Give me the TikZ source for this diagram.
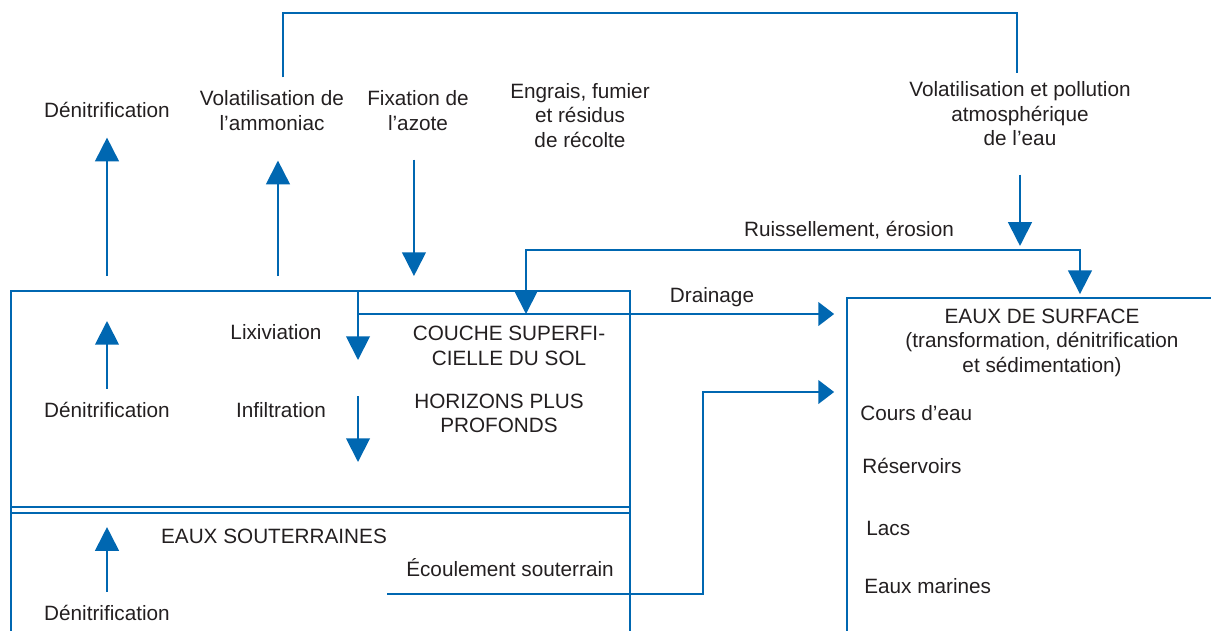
\documentclass[tikz,border=0pt]{standalone}
\usepackage{fontspec}
\setmainfont{Liberation Sans}
\usepackage{xcolor}
\usetikzlibrary{arrows.meta, positioning, calc}
\definecolor{clrFlow}{HTML}{0067B1}
\definecolor{clrText}{HTML}{231F20}

\begin{document}
\begin{tikzpicture}[
    x=0.02cm, y=-0.02cm,
    zone/.style={rectangle, draw=clrFlow, line width=1.1pt, inner sep=0pt},
    lbl/.style={font=\fontsize{11.8}{13.9}\selectfont, text=clrText, inner sep=0pt, align=center},
    flow/.style={draw=clrFlow, line width=1.1pt},
    arrow/.style={flow, -{Triangle[length=13.5pt, width=13.5pt]}},
    flatarrow/.style={flow, -{Triangle[length=9pt, width=13.5pt]}},
]
\useasboundingbox (0,0) rectangle (1211,630);
\clip (0,0) rectangle (1211,630);

% compartments (cut by the page edge)
\node[zone, minimum width=12.38cm, minimum height=8.18cm] (soil) at (320.5,495.5) {};
\node[zone, minimum width=8.26cm, minimum height=8.04cm] (surf) at (1053.5,499) {};
\coordinate (sbot) at (11,507);
\coordinate (gtop) at (11,513);
\draw[flow] (sbot) -- (sbot -| soil.east);
\draw[flow] (gtop) -- (gtop -| soil.east);

% labels above the soil
\node[lbl, anchor=base] (dn1) at (107,117) {Dénitrification};
\node[lbl] (vol1) at (272,110.5) {Volatilisation de\\l’ammoniac};
\node[lbl] (fix) at (418,110.5) {Fixation de\\l’azote};
\node[lbl] (engr) at (580,115.5) {Engrais, fumier\\et résidus\\de récolte};
\node[lbl] (vol2) at (1020,114) {Volatilisation et pollution\\atmosphérique\\de l’eau};
\node[lbl, anchor=base] (ruis) at (849,236) {Ruissellement, érosion};
\node[lbl, anchor=base] (drain) at (712,302) {Drainage};

% labels inside the soil
\node[lbl, anchor=base] (lix) at (276,339) {Lixiviation};
\node[lbl] (couche) at (509,346) {COUCHE SUPERFI-\\CIELLE DU SOL};
\node[lbl, anchor=base] (dn2) at (107,417) {Dénitrification};
\node[lbl, anchor=base] (infil) at (281,417) {Infiltration};
\node[lbl] (horiz) at (499,413.5) {HORIZONS PLUS\\PROFONDS};

% labels in the groundwater
\node[lbl, anchor=base] (souter) at (274,543) {EAUX SOUTERRAINES};
\node[lbl, anchor=base] (ecoul) at (510,576) {Écoulement souterrain};
\node[lbl, anchor=base] (dn3) at (107,620) {Dénitrification};

% surface waters
\node[lbl] (surftitle) at (1042,342.5) {EAUX DE SURFACE\\(transformation, dénitrification\\et sédimentation)};
\node[lbl, anchor=base west] (cours) at (860,420) {Cours d’eau};
\node[lbl, anchor=base west] (reserv) at (862,473) {Réservoirs};
\node[lbl, anchor=base west] (lacs) at (866,535) {Lacs};
\node[lbl, anchor=base west] (marin) at (864,593) {Eaux marines};

% bend points
\coordinate (loop) at (650,13);
\coordinate (lix0) at (358,291);
\coordinate (drain0) at (358,314);
\coordinate (inf0) at (358,396);
\coordinate (runL) at (526,314);
\coordinate (runR) at (1080,250);
\coordinate (ec0) at (387,594);
\coordinate (ec1) at (703,392);

% exchanges with the air
\draw[arrow, shorten <=8pt, shorten >=11.4pt] (dn1.south |- soil.north) -- (dn1.south);
\draw[arrow, shorten <=8pt, shorten >=17pt] ([xshift=3.4pt]vol1.south |- soil.north) -- ([xshift=3.4pt]vol1.south);
\draw[arrow, shorten <=16.5pt, shorten >=8pt] ([xshift=-2.3pt]fix.south) -- ([xshift=-2.3pt]fix.south |- soil.north);
\draw[flow] ([xshift=6.3pt, yshift=7.4pt]vol1.north) |- (loop) -| ([xshift=-1.7pt, yshift=5.1pt]vol2.north);
\draw[arrow, shorten <=16pt, shorten >=2.3pt] (vol2.south) -- (vol2.south |- runR);

% runoff and drainage
\draw[flow, {Triangle[length=13.5pt, width=13.5pt]}-{Triangle[length=13.5pt, width=13.5pt]}, shorten >=1.7pt] (runL) |- (runR) -- (runR |- surf.north);
\draw[flatarrow, shorten >=6.8pt] (drain0) -- (drain0 -| surf.west);
\draw[arrow] (lix0) -- ++(0,69);
\draw[arrow] (inf0) -- ++(0,66);

% losses inside the soil and the groundwater
\draw[arrow, shorten <=7.1pt, shorten >=17.6pt] (dn2.north) -- (dn2.north |- soil.north);
\draw[arrow, shorten <=7.1pt, shorten >=8pt] (dn3.north) -- (dn3.north |- gtop);

% groundwater flow
\draw[flatarrow, shorten >=6.8pt] (ec0) -| (ec1) -- (ec1 -| surf.west);

\end{tikzpicture}
\end{document}
